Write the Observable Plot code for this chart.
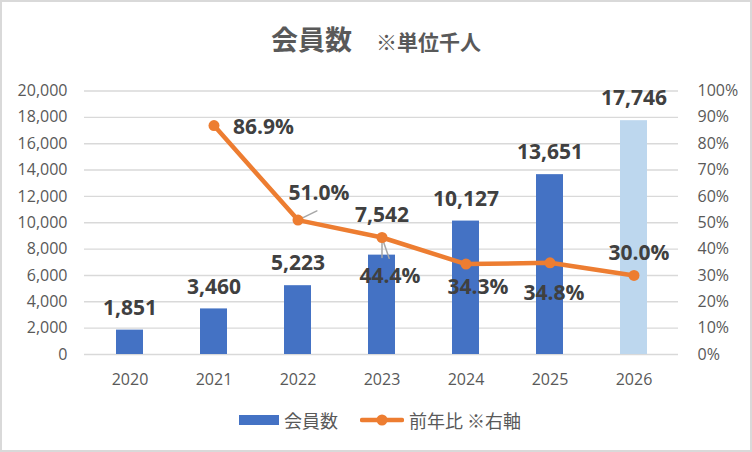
<!DOCTYPE html>
<html>
<head>
<meta charset="utf-8">
<script src="https://cdn.jsdelivr.net/npm/d3@7"></script>
<script src="https://cdn.jsdelivr.net/npm/@observablehq/plot@0.6"></script>
<style>
  html, body { margin: 0; padding: 0; background: #fff; }
  #chart { position: relative; width: 752px; height: 452px; background: #fff; overflow: hidden; }
  #frame { position: absolute; inset: 0; border: 2px solid #d9d9d9; pointer-events: none; box-sizing: border-box; }
  #title { height: 70px; box-sizing: border-box; padding-top: 25px; text-align: center; line-height: 1;
           font-family: "Noto Sans CJK JP", sans-serif; color: #595959; font-weight: 700; }
  #title .main { font-size: 27px; }
  #title .sub { font-size: 21px; margin-left: 24px; }
  #plot svg { display: block; }
  #legend { position: absolute; left: 0; right: 0; top: 408px; height: 24px; display: flex; justify-content: center;
            align-items: center; font-family: "Noto Sans CJK JP", sans-serif; font-size: 18px; color: #595959; padding-left: 8px; }
  #legend .item { display: flex; align-items: center; }
  #legend .item + .item { margin-left: 22px; }
  #legend svg { margin-right: 5px; }
</style>
</head>
<body>
<div id="chart">
  <div id="title"><span class="main">会員数</span><span class="sub">※単位千人</span></div>
  <div id="plot"></div>
  <div id="legend"></div>
  <div id="frame"></div>
</div>
<script>
// ---- data ----
const years = ["2020", "2021", "2022", "2023", "2024", "2025", "2026"];
const members = [1851, 3460, 5223, 7542, 10127, 13651, 17746];       // 会員数（千人）
const growth = [null, 86.9, 51.0, 44.4, 34.3, 34.8, 30.0];            // 前年比（%）
const forecast = [false, false, false, false, false, false, true];
const leftTicks = [0, 2000, 4000, 6000, 8000, 10000, 12000, 14000, 16000, 18000, 20000];
const rightMaxPct = 100;
const seriesNames = ["会員数", "前年比 ※右軸"];

const leftMax = 20000;
const k = leftMax / rightMaxPct; // right axis (%) -> left axis units

const data = years.map((year, i) => ({year, members: members[i], growth: growth[i], forecast: forecast[i]}));
const lineData = data.filter(d => d.growth != null);

const blue = "#4472C4", lightBlue = "#BDD7EE", orange = "#ED7D31";
const labelStyle = {fontSize: 21, fontWeight: "bold", fill: "#404040", fontFamily: "'Open Sans', sans-serif"};
const fmtN = d3.format(",");
const fmtP = d => d3.format(".1f")(d) + "%";

const leader = {draw(context, l) { context.moveTo(0, 0); context.lineTo(0, -l); }};

const lineLabel = (yr, dx, dy, textAnchor = "middle") =>
  Plot.text(lineData.filter(d => d.year === yr), {x: "year", y: d => d.growth * k, text: d => fmtP(d.growth), dx, dy, textAnchor, ...labelStyle});

const chart = Plot.plot({
  width: 752,
  height: 330,
  marginTop: 20.5,
  marginBottom: 46,
  marginLeft: 84,
  marginRight: 74,
  style: {fontFamily: "'Open Sans', sans-serif", fontSize: "16px", color: "#595959", background: "transparent", overflow: "visible"},
  x: {type: "band", domain: years, paddingInner: 0.68, paddingOuter: 0.34, label: null},
  y: {domain: [0, leftMax], label: null},
  color: {type: "identity"},
  marks: [
    Plot.gridY(leftTicks, {stroke: "#d9d9d9", strokeOpacity: 1, strokeWidth: 1.4}),
    Plot.axisY(leftTicks, {anchor: "left", tickSize: 0, tickPadding: 17, tickFormat: fmtN, fill: "#595959", fontSize: 16, label: null}),
    Plot.axisY(leftTicks, {anchor: "right", tickSize: 0, tickPadding: 19, textAnchor: "start", tickFormat: d => d3.format(".0f")(d / k) + "%", fill: "#595959", fontSize: 16, label: null}),
    Plot.axisX({tickSize: 0, tickPadding: 19, fill: "#595959", fontSize: 16, label: null}),
    Plot.barY(data, {x: "year", y: "members", fill: d => d.forecast ? lightBlue : blue}),
    // leader lines for moved labels
    Plot.vector(lineData.filter(d => d.year === "2022"), {x: "year", y: d => d.growth * k, length: 21, rotate: 64, anchor: "start", shape: leader, stroke: "#a6a6a6", strokeWidth: 1.5}),
    Plot.vector(lineData.filter(d => d.year === "2023"), {x: "year", y: d => d.growth * k, length: 20, rotate: 180, anchor: "start", shape: leader, stroke: "#a6a6a6", strokeWidth: 1.5}),
    Plot.vector(lineData.filter(d => d.year === "2023"), {x: "year", y: d => d.growth * k, length: 22, rotate: 161, anchor: "start", shape: leader, stroke: "#a6a6a6", strokeWidth: 1.5}),
    Plot.line(lineData, {x: "year", y: d => d.growth * k, stroke: orange, strokeWidth: 4.5, strokeLinejoin: "round", strokeLinecap: "round"}),
    Plot.dot(lineData, {x: "year", y: d => d.growth * k, r: 5.5, fill: orange, stroke: null}),
    // bar labels
    Plot.text(data.filter(d => d.year !== "2023"), {x: "year", y: "members", text: d => fmtN(d.members), dy: -22, ...labelStyle}),
    Plot.text(data.filter(d => d.year === "2023"), {x: "year", y: "members", text: d => fmtN(d.members), dy: -40, ...labelStyle}),
    // line labels
    lineLabel("2021", 19, 2, "start"),
    lineLabel("2022", 21, -27),
    lineLabel("2023", 8, 39),
    lineLabel("2024", 12, 23),
    lineLabel("2025", 4, 30),
    lineLabel("2026", 5, -22)
  ]
});
document.getElementById("plot").appendChild(chart);

// legend
const legend = document.getElementById("legend");
legend.innerHTML = `
  <div class="item"><svg width="40" height="10"><rect width="40" height="10" fill="${blue}"/></svg><span>${seriesNames[0]}</span></div>
  <div class="item"><svg width="44" height="14"><line x1="2" y1="7" x2="42" y2="7" stroke="${orange}" stroke-width="4.5" stroke-linecap="round"/><circle cx="22" cy="7" r="5.5" fill="${orange}"/></svg><span>${seriesNames[1]}</span></div>`;
</script>
</body>
</html>
